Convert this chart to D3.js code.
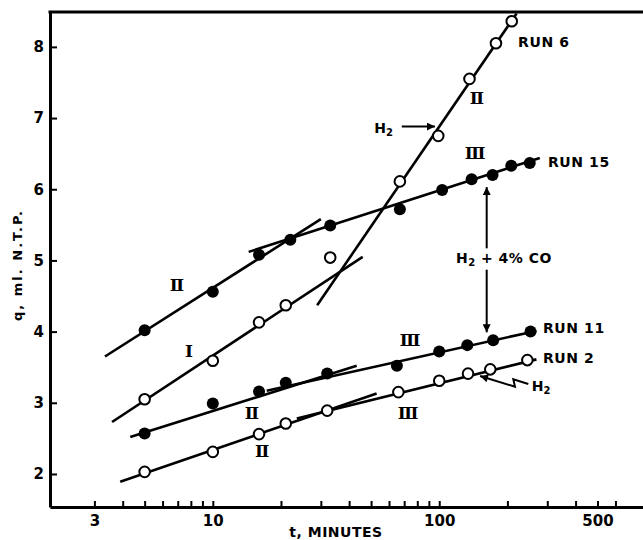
<!DOCTYPE html>
<html>
<head>
<meta charset="utf-8">
<script src="https://cdn.jsdelivr.net/npm/d3@7"></script>
<style>
  body { margin: 0; background: #fff; }
  text { font-family: "DejaVu Sans", sans-serif; font-weight: bold; fill: #000; }
  .roman { font-family: "DejaVu Serif", serif; }
</style>
</head>
<body>
<div id="chart"></div>
<script>
// Set up dimensions and margins
const width = 643;
const height = 540;
const margin = { top: 12, right: 0, bottom: 33, left: 50 };

// Data (t in minutes, q in ml N.T.P.)
const run15Times = [5, 10, 16, 22, 33, 67, 103, 139, 172, 208, 251];
const run15Values = [4.02, 4.56, 5.08, 5.29, 5.49, 5.72, 5.99, 6.14, 6.20, 6.33, 6.37];

const run6Times = [5, 10, 16, 21, 33, 67, 99, 136, 178, 209];
const run6Values = [3.05, 3.59, 4.13, 4.37, 5.04, 6.11, 6.75, 7.55, 8.05, 8.36];

const run11Times = [5, 10, 16, 21, 32, 65, 100, 133, 173, 253];
const run11Values = [2.57, 2.99, 3.16, 3.28, 3.41, 3.52, 3.72, 3.81, 3.88, 4.00];

const run2Times = [5, 10, 16, 21, 32, 66, 100, 134, 168, 245];
const run2Values = [2.03, 2.31, 2.56, 2.71, 2.89, 3.15, 3.31, 3.41, 3.47, 3.60];

// Fitted straight segments: [t0, q0, t1, q1]
const run15Fits = [[3.34, 3.65, 30.0, 5.58], [14.4, 5.12, 278, 6.44]];
const run6Fits = [[3.59, 2.73, 45.9, 5.05], [28.9, 4.37, 219.6, 8.47]];
const run11Fits = [[4.32, 2.52, 43.2, 3.52], [17.3, 3.17, 268.7, 4.01]];
const run2Fits = [[3.90, 1.89, 52.9, 3.13], [23.5, 2.78, 268.7, 3.61]];

// Tick values and labels
const xTicks = [3, 4, 5, 6, 7, 8, 9, 10, 20, 30, 40, 50, 60, 70, 80, 90, 100, 200, 300, 400, 500, 600];
const xTickLabels = [3, 10, 100, 500];
const yTicks = [2, 3, 4, 5, 6, 7, 8];

const series = [
  { name: "RUN 15", times: run15Times, values: run15Values, fits: run15Fits, filled: true },
  { name: "RUN 6", times: run6Times, values: run6Values, fits: run6Fits, filled: false },
  { name: "RUN 11", times: run11Times, values: run11Values, fits: run11Fits, filled: true },
  { name: "RUN 2", times: run2Times, values: run2Values, fits: run2Fits, filled: false }
];

// Labels placed in data units
const runLabels = [
  { text: "RUN 6", t: 223, q: 8.07 },
  { text: "RUN 15", t: 302, q: 6.38 },
  { text: "RUN 11", t: 287, q: 4.05 },
  { text: "RUN 2", t: 287, q: 3.63 }
];
const romanLabels = [
  { text: "\u2161", t: 6.95, q: 4.655 },
  { text: "I", t: 7.85, q: 3.728 },
  { text: "\u2161", t: 14.9, q: 2.857 },
  { text: "\u2161", t: 16.5, q: 2.323 },
  { text: "\u2162", t: 74.3, q: 3.882 },
  { text: "\u2162", t: 72.8, q: 2.857 },
  { text: "\u2161", t: 146.8, q: 7.282 },
  { text: "\u2162", t: 143.9, q: 6.509 }
];

// Scales
const x = d3.scaleLog()
  .domain([1.91, 794])
  .range([margin.left, width - margin.right]);

const y = d3.scaleLinear()
  .domain([1.536, 8.49])
  .range([height - margin.bottom, margin.top]);

const svg = d3.select("#chart")
  .append("svg")
  .attr("width", width)
  .attr("height", height);

const defs = svg.append("defs");
defs.append("marker")
  .attr("id", "head")
  .attr("viewBox", "0 0 10 10")
  .attr("refX", 10)
  .attr("refY", 5)
  .attr("markerUnits", "userSpaceOnUse")
  .attr("markerWidth", 9)
  .attr("markerHeight", 8)
  .attr("orient", "auto-start-reverse")
  .append("path")
  .attr("d", "M0,0 L10,5 L0,10 Z")
  .attr("fill", "#000");

// Axes
const xAxis = d3.axisBottom(x)
  .tickValues(xTicks)
  .tickSize(-6)
  .tickSizeOuter(0)
  .tickPadding(8)
  .tickFormat(d => xTickLabels.includes(d) ? d : "");

const yAxis = d3.axisLeft(y)
  .tickValues(yTicks)
  .tickSize(-7)
  .tickSizeOuter(0)
  .tickPadding(6)
  .tickFormat(d3.format("d"));

const gx = svg.append("g")
  .attr("transform", `translate(0, ${height - margin.bottom})`)
  .call(xAxis);

const gy = svg.append("g")
  .attr("transform", `translate(${margin.left}, 0)`)
  .call(yAxis);

[gx, gy].forEach(g => {
  g.select(".domain").attr("stroke-width", 3);
  g.selectAll(".tick line").attr("stroke-width", 2);
  g.selectAll(".tick text")
    .attr("font-size", 15)
    .attr("font-family", "DejaVu Sans")
    .attr("font-weight", "bold");
});

// Top frame line
svg.append("line")
  .attr("x1", margin.left - 1.5).attr("x2", width)
  .attr("y1", margin.top).attr("y2", margin.top)
  .attr("stroke", "#000").attr("stroke-width", 3);

// Axis titles
svg.append("text")
  .attr("x", 336)
  .attr("y", 532)
  .attr("text-anchor", "middle")
  .attr("dy", "0.35em")
  .attr("font-size", 14)
  .attr("letter-spacing", 0.5)
  .text("t, MINUTES");

svg.append("text")
  .attr("transform", "translate(17, 265) rotate(-90)")
  .attr("text-anchor", "middle")
  .attr("dy", "0.35em")
  .attr("font-size", 13)
  .attr("letter-spacing", 2)
  .text("q, ml. N.T.P.");

// Fitted lines
series.forEach(s => {
  svg.append("g")
    .selectAll("line")
    .data(s.fits)
    .join("line")
    .attr("x1", d => x(d[0])).attr("y1", d => y(d[1]))
    .attr("x2", d => x(d[2])).attr("y2", d => y(d[3]))
    .attr("stroke", "#000")
    .attr("stroke-width", 2.6);
});

// Points
series.forEach(s => {
  const pts = s.times.map((t, i) => ({ t: t, q: s.values[i] }));
  svg.append("g")
    .selectAll("circle")
    .data(pts)
    .join("circle")
    .attr("cx", d => x(d.t))
    .attr("cy", d => y(d.q))
    .attr("r", s.filled ? 6 : 5.3)
    .attr("fill", s.filled ? "#000" : "#fff")
    .attr("stroke", "#000")
    .attr("stroke-width", s.filled ? 0 : 2);
});

// Run labels
svg.append("g")
  .selectAll("text")
  .data(runLabels)
  .join("text")
  .attr("x", d => x(d.t))
  .attr("y", d => y(d.q))
  .attr("dy", "0.35em")
  .attr("font-size", 14)
  .attr("letter-spacing", 0.6)
  .text(d => d.text);

// Roman numeral region labels
svg.append("g")
  .selectAll("text")
  .data(romanLabels)
  .join("text")
  .attr("class", "roman")
  .attr("x", d => x(d.t))
  .attr("y", d => y(d.q))
  .attr("dy", "0.35em")
  .attr("text-anchor", "middle")
  .attr("font-size", 17)
  .text(d => d.text);

// H2 + 4% CO double arrow
const arrowT = 162;
svg.append("line")
  .attr("x1", x(arrowT)).attr("x2", x(arrowT))
  .attr("y1", y(5.17)).attr("y2", y(6.03))
  .attr("stroke", "#000").attr("stroke-width", 2)
  .attr("marker-end", "url(#head)");
svg.append("line")
  .attr("x1", x(arrowT)).attr("x2", x(arrowT))
  .attr("y1", y(4.87)).attr("y2", y(3.99))
  .attr("stroke", "#000").attr("stroke-width", 2)
  .attr("marker-end", "url(#head)");

const coLabel = svg.append("text")
  .attr("x", x(193))
  .attr("y", y(5.03))
  .attr("dy", "0.35em")
  .attr("text-anchor", "middle")
  .attr("font-size", 14)
  .attr("letter-spacing", 0.5);
coLabel.append("tspan").text("H");
coLabel.append("tspan").attr("font-size", 10).attr("dy", 3).text("2");
coLabel.append("tspan").attr("dy", -3).text(" + 4% CO");

// H2 arrow at run 6
const h2a = svg.append("text")
  .attr("x", x(62.5))
  .attr("y", y(6.86))
  .attr("dy", "0.35em")
  .attr("text-anchor", "end")
  .attr("font-size", 14);
h2a.append("tspan").text("H");
h2a.append("tspan").attr("font-size", 10).attr("dy", 3).text("2");

svg.append("line")
  .attr("x1", x(68.3)).attr("x2", x(95.8))
  .attr("y1", y(6.88)).attr("y2", y(6.88))
  .attr("stroke", "#000").attr("stroke-width", 2)
  .attr("marker-end", "url(#head)");

// H2 zig-zag arrow at run 2
const h2b = svg.append("text")
  .attr("x", x(256))
  .attr("y", y(3.236))
  .attr("dy", "0.35em")
  .attr("font-size", 14);
h2b.append("tspan").text("H");
h2b.append("tspan").attr("font-size", 10).attr("dy", 3).text("2");

const zig = [[247.4, 3.264], [212.4, 3.330], [216, 3.226], [151.4, 3.376]];
svg.append("path")
  .attr("d", d3.line().x(d => x(d[0])).y(d => y(d[1]))(zig))
  .attr("fill", "none")
  .attr("stroke", "#000")
  .attr("stroke-width", 2)
  .attr("marker-end", "url(#head)");
</script>
</body>
</html>
